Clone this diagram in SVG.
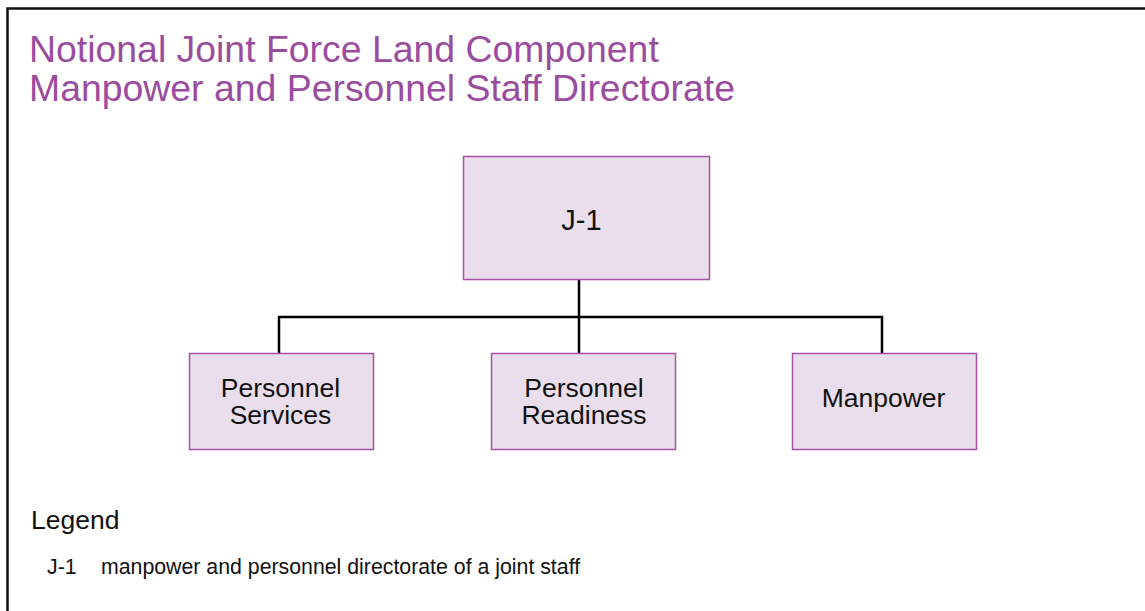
<svg xmlns="http://www.w3.org/2000/svg" width="1145" height="611" viewBox="0 0 1145 611">
<style>
.box{fill:#EADEEC;stroke:#A651A6;stroke-width:1.5}
.lbl{font-family:"Liberation Sans",Arial,sans-serif;font-size:26.5px;fill:#111;text-anchor:middle}
.title{font-family:"Liberation Sans",Arial,sans-serif;font-size:37.4px;fill:#9A4C9E}
.conn{stroke:#000;stroke-width:2.5;fill:none}
.leg{font-family:"Liberation Sans",Arial,sans-serif;fill:#111}
</style>
<rect width="1145" height="611" fill="#fff"/>
<path d="M7.5,611 V8.5 H1145" fill="none" stroke="#111" stroke-width="2.5"/>
<text class="title" x="29" y="62">Notional Joint Force Land Component</text>
<text class="title" x="29" y="101">Manpower and Personnel Staff Directorate</text>
<g id="connectors">
<path class="conn" d="M579,279 V353"/>
<path class="conn" d="M279,353 V317 H882 V353"/>
</g>
<g id="j1">
<rect class="box" x="463.5" y="156.5" width="246" height="123"/>
<text class="lbl" x="581.5" y="230" style="font-size:29px">J-1</text>
</g>
<g id="personnel-services">
<rect class="box" x="189.5" y="353.5" width="184" height="96"/>
<text class="lbl" x="280.5" y="397">Personnel</text>
<text class="lbl" x="280.5" y="424">Services</text>
</g>
<g id="personnel-readiness">
<rect class="box" x="491.5" y="353.5" width="184" height="96"/>
<text class="lbl" x="584" y="397">Personnel</text>
<text class="lbl" x="584" y="424">Readiness</text>
</g>
<g id="manpower">
<rect class="box" x="792.5" y="353.5" width="184" height="96"/>
<text class="lbl" x="883.5" y="407">Manpower</text>
</g>
<g id="legend">
<text class="leg" x="31" y="529" font-size="26.5">Legend</text>
<text class="leg" x="47" y="574" font-size="21.3">J-1</text>
<text class="leg" x="101" y="574" font-size="21.3">manpower and personnel directorate of a joint staff</text>
</g>
</svg>
